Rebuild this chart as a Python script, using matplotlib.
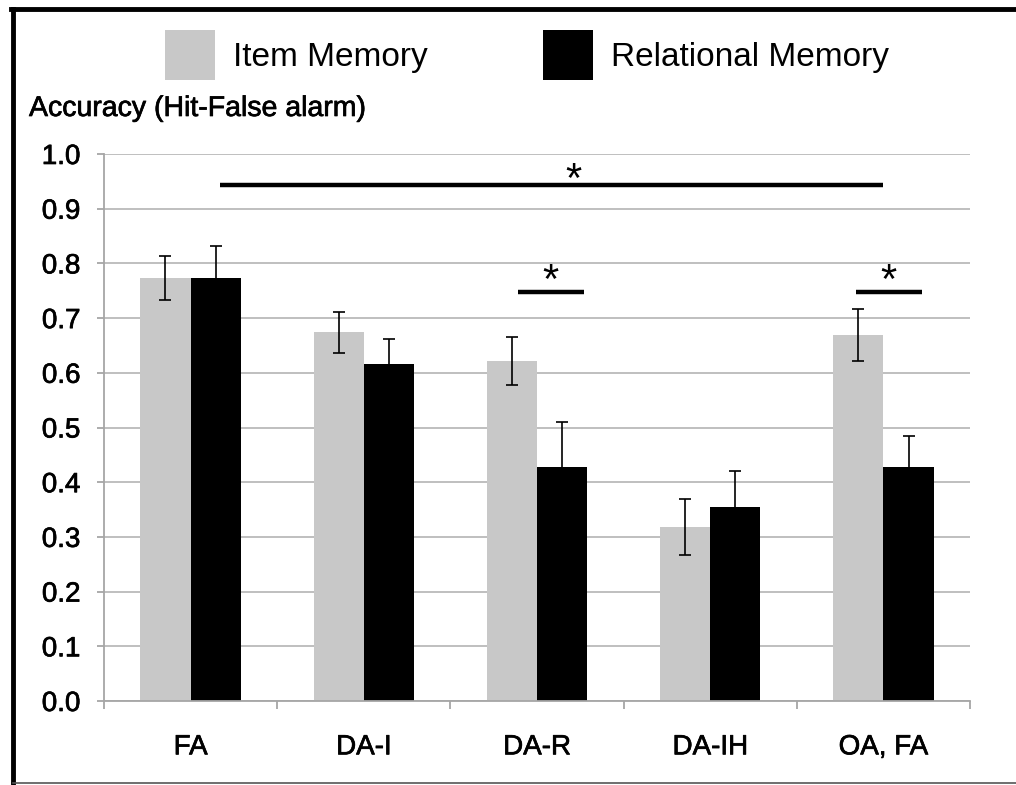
import numpy as np
import matplotlib
matplotlib.use('Agg')
import matplotlib.pyplot as plt
import matplotlib.patheffects as pe
from matplotlib.lines import Line2D

plt.rcParams['font.family'] = ['Liberation Sans', 'DejaVu Sans']

categories = ['FA', 'DA-I', 'DA-R', 'DA-IH', 'OA, FA']
item_mem = [0.773, 0.674, 0.622, 0.318, 0.669]
item_err = [0.040, 0.037, 0.044, 0.051, 0.048]
rel_mem = [0.773, 0.616, 0.428, 0.354, 0.428]
rel_err = [0.059, 0.045, 0.082, 0.067, 0.056]

# lineas de significancia: (x inicio, x fin, y) y posicion del asterisco
sig_lines = [(0.17, 4.0, 0.943), (1.89, 2.27, 0.747), (3.84, 4.22, 0.747)]
sig_stars = [(2.21, 0.958), (2.08, 0.774), (4.03, 0.774)]

gris = '#c8c8c8'
gris_eje = '#a6a6a6'
grueso = [pe.withStroke(linewidth=0.5, foreground='black')]  # texto un poco mas negro

fig = plt.figure(figsize=(10.16, 7.85), dpi=100)
ax = fig.add_axes([104/1016, 1-701/785, 866/1016, 547/785])

x = np.arange(len(categories))
w = 0.29
ax.bar(x - w/2, item_mem, w, color=gris, label='Item Memory', zorder=2)
ax.bar(x + w/2, rel_mem, w, color='black', label='Relational Memory', zorder=2)
ax.errorbar(x - w/2, item_mem, yerr=item_err, fmt='none', ecolor='black',
            elinewidth=1.2, capsize=4, capthick=1.2, zorder=3)
ax.errorbar(x + w/2, rel_mem, yerr=rel_err, fmt='none', ecolor='black',
            elinewidth=1.2, capsize=4, capthick=1.2, zorder=3)

for x0, x1, y in sig_lines:
    ax.plot([x0, x1], [y, y], color='black', lw=3.2, solid_capstyle='butt', zorder=4)
for xs, ys in sig_stars:
    ax.text(xs, ys, '*', ha='center', va='center_baseline', fontsize=30, zorder=4)

ax.set_xlim(-0.5, len(categories) - 0.5)
ax.set_ylim(0, 1.0)
ax.set_yticks(np.arange(0, 1.01, 0.1))
ax.set_yticklabels(['%.1f' % v for v in np.arange(0, 1.01, 0.1)], fontsize=20)
ax.set_xticks(x)
ax.set_xticklabels(categories, fontsize=20)
ax.set_xticks(np.arange(-0.5, len(categories)), minor=True)
ax.tick_params(axis='x', which='major', length=0, pad=24)
ax.tick_params(axis='x', which='minor', length=6, width=1.3, color=gris_eje)
ax.tick_params(axis='y', length=5, width=1.3, color=gris_eje, pad=12)
for t in ax.get_xticklabels() + ax.get_yticklabels():
    t.set_path_effects(grueso)

ax.yaxis.grid(True, color='#b4b4b4', lw=1.2, zorder=0)
ax.set_axisbelow(True)
for s in ['top', 'right']:
    ax.spines[s].set_visible(False)
for s in ['left', 'bottom']:
    ax.spines[s].set_color(gris_eje)
    ax.spines[s].set_linewidth(1.3)

fig.text(29/1016, 1-109/785, 'Accuracy (Hit-False alarm)', fontsize=20.5, va='center',
         ha='left', path_effects=grueso)

fig.legend(loc='center', bbox_to_anchor=(527/1016, 1-55/785), ncol=2, frameon=False,
           fontsize=24, handlelength=1.5, handleheight=1.9, handletextpad=0.55,
           columnspacing=3.45)

# marco
fig.add_artist(Line2D([13/1016, 13/1016], [1-9/785, 1-783/785], color='black', lw=3.5,
                      transform=fig.transFigure))
fig.add_artist(Line2D([11/1016, 1.0], [1-9/785, 1-9/785], color='black', lw=3.5,
                      transform=fig.transFigure))
fig.add_artist(Line2D([13/1016, 1.0], [1-783/785, 1-783/785], color='#555555', lw=1.2,
                      transform=fig.transFigure))

fig.savefig('out.png', dpi=100)
